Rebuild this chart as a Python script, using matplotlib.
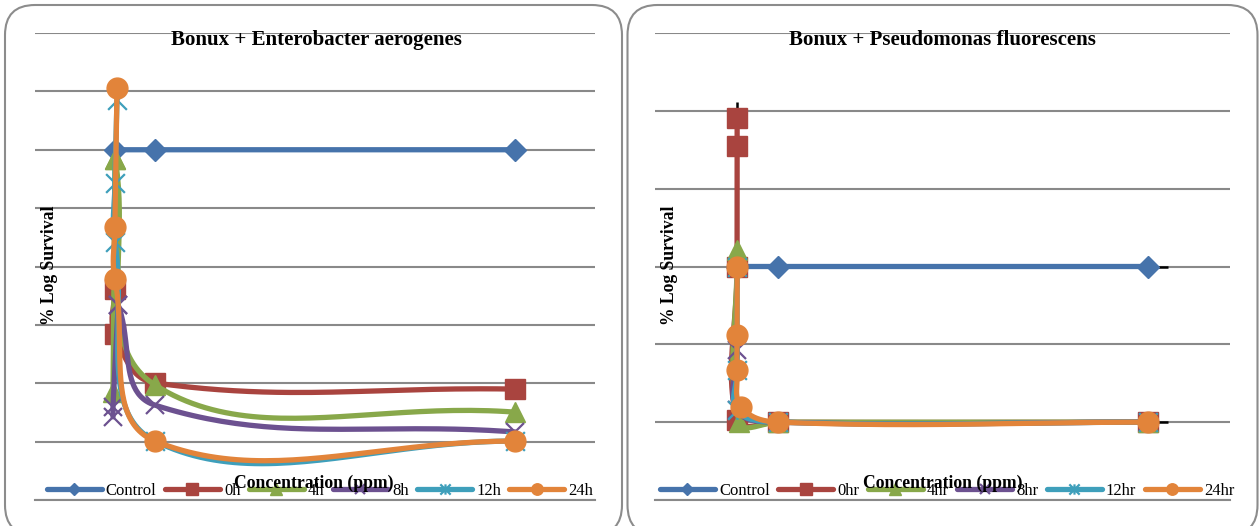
import numpy as np
import matplotlib
matplotlib.use("Agg")
import matplotlib.pyplot as plt
from matplotlib.patches import FancyBboxPatch
from matplotlib.transforms import IdentityTransform
from matplotlib.path import Path

plt.rcParams['font.family'] = ['Liberation Serif', 'DejaVu Serif']

# ---------------- data: Bonux + Enterobacter aerogenes ----------------
ea_labels = ['Control', '0h', '4h', '8h', '12h', '24h']
ea_control_x = [0, 10, 100]
ea_control_y = [120, 120, 120]
ea_0h_x = [0, 0, 10, 100]
ea_0h_y = [72.3, 56.8, 40.1, 38.0]
ea_4h_x = [-0.5, 0, 0, 10, 100]
ea_4h_y = [37.0, 117.0, 117.0, 39.4, 30.1]
ea_8h_x = [-0.5, -0.5, 0.8, 0.8, 10, 100]
ea_8h_y = [28.5, 32.0, 66.8, 66.8, 32.5, 23.3]
ea_12h_x = [0.5, 0, 0, 10, 100]
ea_12h_y = [137.0, 108.6, 88.4, 20.2, 20.2]
ea_24h_x = [0.5, 0, 0, 10, 100]
ea_24h_y = [141.1, 93.5, 75.7, 20.2, 20.2]

# ---------------- data: Bonux + Pseudomonas fluorescens ----------------
pf_labels = ['Control', '0hr', '4hr', '8hr', '12hr', '24hr']
pf_control_x = [0, 10, 100]
pf_control_y = [60, 60, 60]
pf_control_xerr = [0, 0, 5]
pf_0hr_x = [0, 0, 0, 0, 10, 100]
pf_0hr_y = [98.2, 91.0, 60.0, 20.5, 20.0, 20.0]
pf_0hr_yerr = [4, 0, 0, 0, 0, 0]
pf_4hr_x = [0, 0.5, 10, 100]
pf_4hr_y = [64.3, 20.0, 20.0, 20.0]
pf_8hr_x = [0, 0, 10, 100]
pf_8hr_y = [38.6, 23.0, 20.0, 20.0]
pf_12hr_x = [0, 0, 0, 10, 100]
pf_12hr_y = [60.0, 33.4, 23.0, 20.0, 20.0]
pf_24hr_x = [0, 0, 0, 1, 10, 100]
pf_24hr_y = [60.0, 42.4, 33.4, 23.9, 20.0, 20.0]
pf_24hr_xerr = [0, 0, 0, 0, 0, 5]

# ---------------- styling ----------------
colors = ['#4673AB', '#A9443F', '#88A84A', '#6C5190', '#3E9FBB', '#E2843A']
star = Path([(-1, -1), (1, 1), (-1, 1), (1, -1), (0, -1), (0, 1)],
            [Path.MOVETO, Path.LINETO, Path.MOVETO, Path.LINETO, Path.MOVETO, Path.LINETO])
markers = ['D', 's', '^', 'x', star, 'o']
msizes = [11.7, 14.5, 15, 13.5, 13.5, 15]
grid_col = '#898989'
W, H = 1260, 526


def smooth_curve(ax, xs, ys, f=0.4, n=48):
    """Bezier smoothing through the points, computed in display space."""
    P = ax.transData.transform(np.column_stack([xs, ys]).astype(float))
    m = len(P)
    s = np.linspace(0, 1, n + 1)[1:, None]
    out = [P[:1]]
    for i in range(m - 1):
        a, b = P[i], P[i + 1]
        L = np.hypot(*(b - a))
        prev = P[i - 1] if i > 0 else a
        dp = np.hypot(*(a - prev))
        wa = L / (dp + L) if dp + L > 0 else 0.0
        c1 = a + (b - prev) * wa * f
        nxt = P[i + 2] if i + 2 < m else b
        dn = np.hypot(*(nxt - b))
        wb = L / (L + dn) if L + dn > 0 else 0.0
        c2 = b - (nxt - a) * wb * f
        seg = ((1 - s) ** 3) * a + 3 * ((1 - s) ** 2) * s * c1 + 3 * (1 - s) * s ** 2 * c2 + s ** 3 * b
        out.append(seg)
    curve = np.vstack(out)
    data = ax.transData.inverted().transform(curve)
    return data[:, 0], data[:, 1], list(range(0, len(curve), n))


def setup_axes(ax, ymax):
    ax.set_xlim(-20, 120)
    ax.set_ylim(0, ymax)
    ax.set_yticks(np.arange(0, ymax + 1, 20))
    ax.set_xticks([])
    ax.tick_params(length=0, labelleft=False, labelbottom=False)
    ax.grid(axis='y', color=grid_col, lw=1.5)
    ax.set_axisbelow(True)
    for side in ['left', 'right', 'top']:
        ax.spines[side].set_visible(False)
    ax.spines['bottom'].set_color(grid_col)
    ax.spines['bottom'].set_linewidth(1.5)
    ax.patch.set_alpha(0)


def draw_series(ax, xs_list, ys_list, labels):
    handles = []
    for k, (xs, ys) in enumerate(zip(xs_list, ys_list)):
        cx, cy, every = smooth_curve(ax, xs, ys)
        mk = markers[k]
        thin = mk in ('x',) or isinstance(mk, Path)
        ln, = ax.plot(cx, cy, color=colors[k], lw=3.8, marker=mk, markevery=every,
                      ms=msizes[k], mfc=colors[k], mec=colors[k],
                      mew=1.6 if thin else 1.0, solid_capstyle='round',
                      solid_joinstyle='round', zorder=3 + k, label=labels[k])
        ln.set_snap(False)
        handles.append(ln)
    return handles


def add_legend(ax, handles, labels, cx):
    leg = ax.legend(handles, labels, loc='center', bbox_to_anchor=(cx / W, 1 - 491 / H),
                    bbox_transform=ax.figure.transFigure, ncol=6, frameon=False,
                    fontsize=12, handlelength=3.3, handletextpad=0.25,
                    columnspacing=0.5, markerscale=0.55, borderpad=0, numpoints=1)
    for h in leg.legend_handles:
        h.set_solid_capstyle('round')
    return leg


fig = plt.figure(figsize=(W / 100, H / 100), dpi=100)

# rounded panel frames
for x0, w in [(5, 617), (627.5, 630)]:
    fig.add_artist(FancyBboxPatch((x0, -9), w, 530, boxstyle='round,pad=0,rounding_size=30',
                                  transform=IdentityTransform(), fill=False,
                                  ec='#8c8c8c', lw=1.5))

axL = fig.add_axes([35 / W, 26 / H, 560 / W, 467 / H])
axR = fig.add_axes([655 / W, 26 / H, 575 / W, 467 / H])
setup_axes(axL, 160)
setup_axes(axR, 120)

hL = draw_series(axL,
                 [ea_control_x, ea_0h_x, ea_4h_x, ea_8h_x, ea_12h_x, ea_24h_x],
                 [ea_control_y, ea_0h_y, ea_4h_y, ea_8h_y, ea_12h_y, ea_24h_y], ea_labels)
hR = draw_series(axR,
                 [pf_control_x, pf_0hr_x, pf_4hr_x, pf_8hr_x, pf_12hr_x, pf_24hr_x],
                 [pf_control_y, pf_0hr_y, pf_4hr_y, pf_8hr_y, pf_12hr_y, pf_24hr_y], pf_labels)

# error bars on the P. fluorescens series
axR.errorbar(pf_control_x, pf_control_y, xerr=pf_control_xerr, fmt='none',
             ecolor='black', elinewidth=1.8, capsize=0, zorder=2)
axR.errorbar(pf_0hr_x, pf_0hr_y, yerr=pf_0hr_yerr, fmt='none',
             ecolor='black', elinewidth=1.8, capsize=0, zorder=2)
axR.errorbar(pf_24hr_x, pf_24hr_y, xerr=pf_24hr_xerr, fmt='none',
             ecolor='black', elinewidth=1.8, capsize=0, zorder=2)

add_legend(axL, hL, ea_labels, 320)
add_legend(axR, hR, pf_labels, 947)

# titles and axis labels
for cx, title in [(316, 'Bonux + Enterobacter aerogenes'), (942, 'Bonux + Pseudomonas fluorescens')]:
    fig.text(cx / W, 1 - 45 / H, title, ha='center', va='baseline',
             fontsize=15, fontweight='bold')
for cx in (314, 943):
    fig.text(cx / W, 1 - 488 / H, 'Concentration (ppm)', ha='center', va='baseline',
             fontsize=12.7, fontweight='bold', zorder=20)
for cx in (49, 670):
    fig.text(cx / W, 1 - 265 / H, '% Log Survival', ha='center', va='center',
             rotation=90, fontsize=12.7, fontweight='bold')

fig.savefig('out.png', dpi=100)
